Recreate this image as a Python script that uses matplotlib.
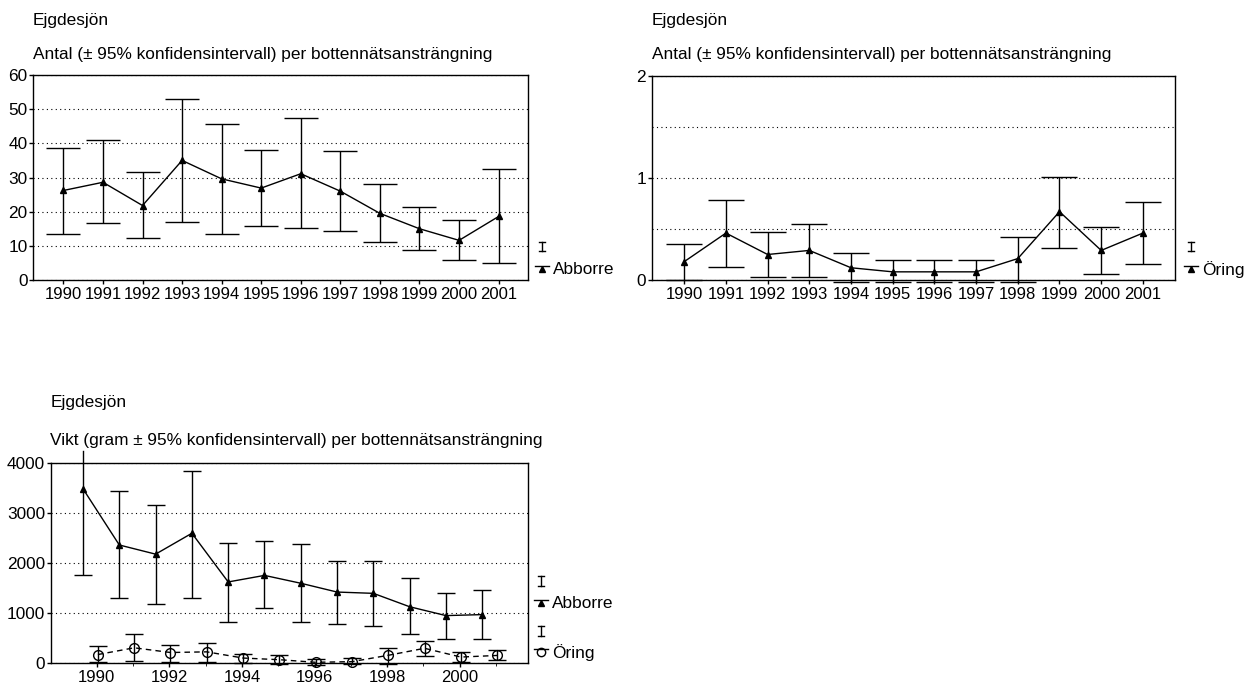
import matplotlib
matplotlib.use("Agg")
import matplotlib.pyplot as plt
from matplotlib.lines import Line2D
import numpy as np

plt.rcParams['font.family'] = ['Liberation Sans', 'DejaVu Sans']
plt.rcParams['font.size'] = 12.4

# --- data ---
years = list(range(1990, 2002))
year_labels = [str(y) for y in years]

# Antal per bottennätsansträngning, abborre
abb_n_mean = [26.2, 28.6, 21.8, 35.0, 29.6, 26.9, 31.1, 26.0, 19.5, 15.0, 11.6, 18.6]
abb_n_upper = [38.5, 41.0, 31.6, 53.1, 45.7, 38.1, 47.3, 37.7, 28.0, 21.3, 17.5, 32.4]
abb_n_lower = [13.5, 16.6, 12.4, 17.1, 13.5, 15.8, 15.1, 14.3, 11.2, 8.8, 6.0, 4.9]

# Antal per bottennätsansträngning, öring
ori_n_mean = [0.18, 0.46, 0.25, 0.29, 0.12, 0.08, 0.08, 0.08, 0.21, 0.67, 0.29, 0.46]
ori_n_upper = [0.35, 0.78, 0.47, 0.55, 0.26, 0.20, 0.20, 0.20, 0.42, 1.01, 0.52, 0.76]
ori_n_lower = [0.0, 0.13, 0.03, 0.03, -0.015, -0.02, -0.02, -0.02, -0.015, 0.31, 0.06, 0.16]

# Vikt (gram) per bottennätsansträngning
abb_w_mean = [3490, 2366, 2183, 2601, 1627, 1758, 1601, 1425, 1399, 1131, 954, 974]
abb_w_upper = [4250, 3438, 3170, 3850, 2412, 2438, 2386, 2046, 2046, 1706, 1399, 1471]
abb_w_lower = [1765, 1314, 1183, 1314, 817, 1105, 817, 791, 739, 582, 477, 477]

ori_w_mean = [175, 310, 216, 229, 105, 72, 20, 33, 160, 300, 125, 157]
ori_w_upper = [350, 582, 373, 399, 196, 157, 85, 111, 315, 440, 230, 275]
ori_w_lower = [30, 55, 26, 33, 7, -7, -26, -20, -5, 146, 35, 59]

lake = "Ejgdesjön"
title_n = "Antal (± 95% konfidensintervall) per bottennätsansträngning"
title_w = "Vikt (gram ± 95% konfidensintervall) per bottennätsansträngning"

W, H = 1257, 683
fig = plt.figure(figsize=(W / 100, H / 100), dpi=100)


def fx(px):
    return px / W


def fy(py):
    return 1 - py / H


def style_axis(ax):
    for s in ax.spines.values():
        s.set_linewidth(1.0)
        s.set_color('black')
    ax.tick_params(axis='y', length=3, width=1, pad=1)
    ax.tick_params(axis='x', length=3, width=1, pad=2, labelsize=12)
    ax.grid(axis='y', which='both', linestyle=(0, (1, 3)), color='black', lw=0.8)
    ax.set_axisbelow(True)


def err(mean, lower, upper):
    mean = np.array(mean, dtype=float)
    return [mean - np.array(lower), np.array(upper) - mean]


def key(xc, y_i, y_line, label, marker, mfc, ms):
    # small errorbar glyph
    fig.add_artist(Line2D([fx(xc), fx(xc)], [fy(y_i - 5), fy(y_i + 5)],
                          transform=fig.transFigure, color='k', lw=1))
    for yy in (y_i - 5, y_i + 5):
        fig.add_artist(Line2D([fx(xc - 3), fx(xc + 3)], [fy(yy), fy(yy)],
                              transform=fig.transFigure, color='k', lw=1))
    fig.add_artist(Line2D([fx(xc - 7), fx(xc + 7)], [fy(y_line), fy(y_line)],
                          transform=fig.transFigure, color='k', lw=1))
    fig.add_artist(Line2D([fx(xc)], [fy(y_line + 3)], transform=fig.transFigure,
                          marker=marker, ms=ms, mfc=mfc, mec='k', color='k', lw=0))
    fig.text(fx(xc + 11), fy(y_line + 4), label, va='center', ha='left')


# --- chart 1: antal abborre ---
ax1 = fig.add_axes([fx(33.3), fy(280), (528.3 - 33.3) / W, (280 - 75) / H])
x = np.arange(len(years))
ax1.errorbar(x, abb_n_mean, yerr=err(abb_n_mean, abb_n_lower, abb_n_upper),
             color='k', lw=1, marker='^', ms=5, capsize=12.5, elinewidth=1,
             capthick=1, clip_on=False)
ax1.set_xlim(-0.76, 11.75)
ax1.set_ylim(0, 60)
ax1.set_yticks(range(0, 61, 10))
ax1.set_xticks(x)
ax1.set_xticklabels(year_labels)
style_axis(ax1)
fig.text(fx(33), fy(20), lake, va='center', ha='left')
fig.text(fx(33), fy(55), title_n, va='center', ha='left')
key(541.7, 246.5, 266, "Abborre", '^', 'k', 4.5)

# --- chart 2: antal öring ---
ax2 = fig.add_axes([fx(651.7), fy(280), (1175 - 651.7) / W, (280 - 76) / H])
ax2.errorbar(x, ori_n_mean, yerr=err(ori_n_mean, ori_n_lower, ori_n_upper),
             color='k', lw=1, marker='^', ms=5, capsize=13, elinewidth=1,
             capthick=1, clip_on=False)
ax2.set_xlim(-0.78, 11.77)
ax2.set_ylim(0, 2)
ax2.set_yticks([0, 1, 2])
ax2.set_yticks([0.5, 1.5], minor=True)
ax2.tick_params(axis='y', which='minor', length=0)
ax2.set_xticks(x)
ax2.set_xticklabels(year_labels)
style_axis(ax2)
fig.text(fx(652), fy(20), lake, va='center', ha='left')
fig.text(fx(652), fy(55), title_n, va='center', ha='left')
key(1191, 246.5, 266, "Öring", '^', 'k', 4.5)

# --- chart 3: vikt ---
ax3 = fig.add_axes([fx(50.7), fy(663.3), (528 - 50.7) / W, (663.3 - 463.3) / H])
xa = np.array(years) - 0.38
xo = np.array(years) + 0.03
ax3.errorbar(xa, abb_w_mean, yerr=err(abb_w_mean, abb_w_lower, abb_w_upper),
             color='k', lw=1, marker='^', ms=5, capsize=6.8, elinewidth=1,
             capthick=1)
# 1990 upper limit runs past the frame
ax3.plot([xa[0], xa[0]], [4000, abb_w_upper[0]], color='k', lw=1, clip_on=False)
ax3.errorbar(xo, ori_w_mean, yerr=err(ori_w_mean, ori_w_lower, ori_w_upper),
             color='k', lw=1, ls=(0, (4, 3)), marker='o', ms=7, mfc='none',
             mec='k', capsize=6.8, elinewidth=1, capthick=1, clip_on=False)
ax3.set_xlim(1988.73, 2001.88)
ax3.set_ylim(0, 4000)
ax3.set_yticks(range(0, 4001, 1000))
ax3.set_xticks(range(1990, 2001, 2))
ax3.set_xticks(years, minor=True)
ax3.tick_params(axis='x', which='minor', length=2)
style_axis(ax3)
fig.text(fx(50.5), fy(403), lake, va='center', ha='left')
fig.text(fx(50.5), fy(441), title_w, va='center', ha='left')
key(541, 581, 599.5, "Abborre", '^', 'k', 4.5)
key(541, 631, 649, "Öring", 'o', 'none', 6)

fig.savefig("out.png", dpi=100)
